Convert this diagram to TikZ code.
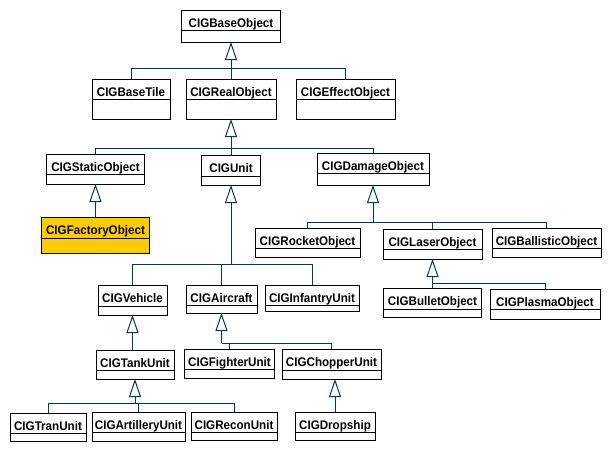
\documentclass[tikz,border=0pt]{standalone}
\usepackage{fontspec}
\newfontfamily\clsfont[FakeStretch=0.93]{Liberation Sans}
\usetikzlibrary{positioning,arrows.meta}
\definecolor{linkcol}{RGB}{0,64,64}
\definecolor{factorycol}{RGB}{255,204,0}
\tikzset{
  clsname/.style={draw=black, line width=1pt, rectangle, anchor=north, inner sep=0pt, outer sep=0pt,
    minimum height=20pt, text height=15pt, text depth=1pt, font=\clsfont\bfseries\fontsize{12.5}{14}\selectfont},
  clsbody/.style={draw=black, line width=1pt, rectangle, inner sep=0pt, outer sep=0pt, minimum height=#1},
  link/.style={draw=linkcol, line width=1pt},
  gen/.style={link, -{Triangle[open, length=18pt, width=12pt]}}
}
\begin{document}
\begin{tikzpicture}[x=1pt, y=-1pt]
    \useasboundingbox (0,0) rectangle (609,451);
    % Draw the classes, each as a name box with an empty box below it.
    \node[clsname, minimum width=99pt] (base) at (231,10) {CIGBaseObject};
    \node[clsbody=12pt, minimum width=99pt, below=0pt of base] (base-b) {};
    \node[clsname, minimum width=78pt] (tile) at (131,79) {CIGBaseTile};
    \node[clsbody=20pt, minimum width=78pt, below=0pt of tile] (tile-b) {};
    \node[clsname, minimum width=90pt] (real) at (231,79) {CIGRealObject};
    \node[clsbody=20pt, minimum width=90pt, below=0pt of real] (real-b) {};
    \node[clsname, minimum width=99pt] (effect) at (345.5,79) {CIGEffectObject};
    \node[clsbody=20pt, minimum width=99pt, below=0pt of effect] (effect-b) {};
    \node[clsname, minimum width=98pt] (static) at (95.5,154) {CIGStaticObject};
    \node[clsbody=10pt, minimum width=98pt, below=0pt of static] (static-b) {};
    \node[clsname, minimum width=59pt, minimum height=21pt] (unit) at (231,155) {CIGUnit};
    \node[clsbody=9pt, minimum width=59pt, below=0pt of unit] (unit-b) {};
    \node[clsname, minimum width=112pt] (damage) at (373,153) {CIGDamageObject};
    \node[clsbody=12pt, minimum width=112pt, below=0pt of damage] (damage-b) {};
    \node[clsname, minimum width=108pt, minimum height=21pt, fill=factorycol] (factory) at (95.5,217) {CIGFactoryObject};
    \node[clsbody=15pt, minimum width=108pt, fill=factorycol, below=0pt of factory] (factory-b) {};
    \node[clsname, minimum width=105pt] (rocket) at (307.5,228) {CIGRocketObject};
    \node[clsbody=9pt, minimum width=105pt, below=0pt of rocket] (rocket-b) {};
    \node[clsname, minimum width=99pt] (laser) at (432.5,229) {CIGLaserObject};
    \node[clsbody=10pt, minimum width=99pt, below=0pt of laser] (laser-b) {};
    \node[clsname, minimum width=109pt] (ballistic) at (546.5,228) {CIGBallisticObject};
    \node[clsbody=9pt, minimum width=109pt, below=0pt of ballistic] (ballistic-b) {};
    \node[clsname, minimum width=69pt, minimum height=21pt] (vehicle) at (132.5,285) {CIGVehicle};
    \node[clsbody=9pt, minimum width=69pt, below=0pt of vehicle] (vehicle-b) {};
    \node[clsname, minimum width=71pt] (aircraft) at (221.5,285) {CIGAircraft};
    \node[clsbody=8pt, minimum width=71pt, below=0pt of aircraft] (aircraft-b) {};
    \node[clsname, minimum width=94pt] (infantry) at (312,285) {CIGInfantryUnit};
    \node[clsbody=6pt, minimum width=94pt, below=0pt of infantry] (infantry-b) {};
    \node[clsname, minimum width=98pt, minimum height=21pt] (bullet) at (432.5,288) {CIGBulletObject};
    \node[clsbody=8pt, minimum width=98pt, below=0pt of bullet] (bullet-b) {};
    \node[clsname, minimum width=110pt] (plasma) at (545,289) {CIGPlasmaObject};
    \node[clsbody=10pt, minimum width=110pt, below=0pt of plasma] (plasma-b) {};
    \node[clsname, minimum width=78pt] (tank) at (135,350) {CIGTankUnit};
    \node[clsbody=9pt, minimum width=78pt, below=0pt of tank] (tank-b) {};
    \node[clsname, minimum width=90pt] (fighter) at (229.5,349) {CIGFighterUnit};
    \node[clsbody=9pt, minimum width=90pt, below=0pt of fighter] (fighter-b) {};
    \node[clsname, minimum width=99pt, minimum height=21pt] (chopper) at (331.5,349) {CIGChopperUnit};
    \node[clsbody=9pt, minimum width=99pt, below=0pt of chopper] (chopper-b) {};
    \node[clsname, minimum width=76pt] (tran) at (48,413) {CIGTranUnit};
    \node[clsbody=8pt, minimum width=76pt, below=0pt of tran] (tran-b) {};
    \node[clsname, minimum width=93pt] (artillery) at (138.5,412) {CIGArtilleryUnit};
    \node[clsbody=9pt, minimum width=93pt, below=0pt of artillery] (artillery-b) {};
    \node[clsname, minimum width=86pt] (recon) at (234,412) {CIGReconUnit};
    \node[clsbody=8pt, minimum width=86pt, below=0pt of recon] (recon-b) {};
    \node[clsname, minimum width=80pt] (dropship) at (335,412) {CIGDropship};
    \node[clsbody=8pt, minimum width=80pt, below=0pt of dropship] (dropship-b) {};
    % Draw the inheritance from CIGBaseObject.
    \coordinate (bus-base) at (231,68);
    \draw[gen] (bus-base) -- (base-b.south);
    \draw[link] (tile.north) |- (bus-base);
    \draw[link] (real.north) -- (bus-base);
    \draw[link] (effect.north) |- (bus-base);
    % Draw the inheritance from CIGRealObject.
    \coordinate (bus-real) at (231,148);
    \draw[gen] (bus-real) -- (real-b.south);
    \draw[link] (static.north) |- (bus-real);
    \draw[link] (unit.north) -- (bus-real);
    \draw[link] (damage.north) |- (bus-real);
    \draw[gen] (factory.north) -- (static-b.south);
    % Draw the inheritance from CIGDamageObject and CIGLaserObject.
    \coordinate (bus-damage) at (373,222);
    \draw[gen] (bus-damage) -- (damage-b.south);
    \draw[link] (rocket.north) |- (bus-damage);
    \draw[link] (laser.north) |- (bus-damage);
    \draw[link] (ballistic.north) |- (bus-damage);
    \coordinate (bus-laser) at (432.5,283);
    \draw[gen] (bus-laser) -- (laser-b.south);
    \draw[link] (bullet.north) -- (bus-laser);
    \draw[link] (plasma.north) |- (bus-laser);
    % Draw the inheritance from CIGUnit.
    \coordinate (bus-unit) at (231,264);
    \draw[gen] (bus-unit) -- (unit-b.south);
    \draw[link] (vehicle.north) |- (bus-unit);
    \draw[link] (aircraft.north) |- (bus-unit);
    \draw[link] (infantry.north) |- (bus-unit);
    % Draw the vehicle and aircraft branches.
    \draw[gen] (vehicle-b.south |- tank.north) -- (vehicle-b.south);
    \coordinate (bus-tank) at (135,403);
    \draw[gen] (bus-tank) -- (tank-b.south);
    \draw[link] (tran.north) |- (bus-tank);
    \draw[link] (artillery.north) |- (bus-tank);
    \draw[link] (recon.north) |- (bus-tank);
    \coordinate (bus-aircraft) at (221.5,343);
    \draw[gen] (bus-aircraft) -- (aircraft-b.south);
    \draw[link] (fighter.north) |- (bus-aircraft);
    \draw[link] (chopper.north) |- (bus-aircraft);
    \draw[gen] (dropship.north) -- (dropship.north |- chopper-b.south);
  \end{tikzpicture}
\end{document}
